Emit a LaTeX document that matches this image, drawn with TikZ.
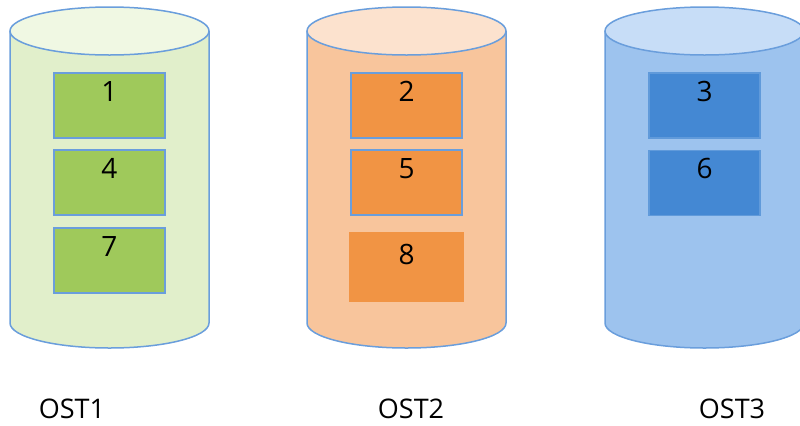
\documentclass[tikz,border=0pt]{standalone}
\usepackage{fontspec}
\setmainfont{Open Sans}
\definecolor{edgeblue}{HTML}{6A9EDC}
\definecolor{gbody}{HTML}{E1EFCB}
\definecolor{gtop}{HTML}{F0F8E3}
\definecolor{gbox}{HTML}{9FC95B}
\definecolor{obody}{HTML}{F8C59C}
\definecolor{otop}{HTML}{FCE2CE}
\definecolor{obox}{HTML}{F19444}
\definecolor{bbody}{HTML}{9DC3EE}
\definecolor{btop}{HTML}{C7DDF7}
\definecolor{bbox}{HTML}{4488D3}
\tikzset{
  chunk/.style={draw=edgeblue, line width=1.2bp, minimum width=111bp, minimum height=65bp, inner sep=0pt},
  num/.style={inner sep=0pt, font=\fontsize{28bp}{34bp}\selectfont},
  ostlabel/.style={inner sep=0pt, font=\fontsize{27bp}{32bp}\selectfont},
  rim/.style={draw=edgeblue, line width=1.5bp},
}
% cylinder: centre x, body colour, top colour
\newcommand{\ostcyl}[3]{%
  \fill[#2] (#1-99.5,31) -- (#1-99.5,323) arc[start angle=180, end angle=0, x radius=99.5, y radius=25] -- (#1+99.5,31) -- cycle;
  \draw[rim] (#1-99.5,31) -- (#1-99.5,323) arc[start angle=180, end angle=0, x radius=99.5, y radius=25] -- (#1+99.5,31);
  \draw[rim, fill=#3] (#1,31) ellipse[x radius=99.5, y radius=24];
}
\begin{document}
\begin{tikzpicture}[x=1bp, y=-1bp]
\useasboundingbox (0,0) rectangle (800,425);

\ostcyl{109.5}{gbody}{gtop}
\ostcyl{406.5}{obody}{otop}
\ostcyl{704.5}{bbody}{btop}

% OST1 stripes
\node[chunk, fill=gbox] (b1) at (109.5,105.5) {};
\node[chunk, fill=gbox] (b4) at (109.5,182.5) {};
\node[chunk, fill=gbox] (b7) at (109.5,260.5) {};
\node[num] (n1) at ([yshift=-19bp]b1.north) {1};
\node[num] (n4) at ([yshift=-19bp]b4.north) {4};
\node[num] (n7) at ([yshift=-19bp]b7.north) {7};

% OST2 stripes
\node[chunk, fill=obox] (b2) at (406.5,105.5) {};
\node[chunk, fill=obox] (b5) at (406.5,182.5) {};
\node[chunk, draw=none, fill=obox, minimum width=115bp, minimum height=70bp] (b8) at (406.5,267) {};
\node[num] (n2) at ([yshift=-19bp]b2.north) {2};
\node[num] (n5) at ([yshift=-19bp]b5.north) {5};
\node[num] (n8) at ([yshift=-23bp]b8.north) {8};

% OST3 stripes
\node[chunk, draw=bbox!85!white, fill=bbox] (b3) at (704.5,105.5) {};
\node[chunk, draw=bbox!85!white, fill=bbox] (b6) at (704.5,183) {};
\node[num] (n3) at ([yshift=-19bp]b3.north) {3};
\node[num] (n6) at ([yshift=-19bp]b6.north) {6};

% target labels
\node[ostlabel] (l1) at (72,409) {OST1};
\node[ostlabel] (l2) at (411,409) {OST2};
\node[ostlabel] (l3) at (732,409) {OST3};
\end{tikzpicture}
\end{document}
